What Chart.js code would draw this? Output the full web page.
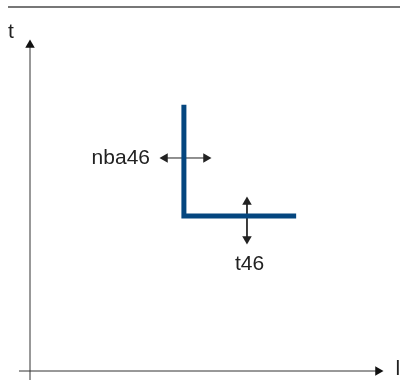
<!DOCTYPE html>
<html><head><meta charset="utf-8">
<script src="https://cdn.jsdelivr.net/npm/chart.js@4"></script>
<style>html,body{margin:0;padding:0;background:#fff}#wrap{width:403px;height:381px}</style>
</head><body><div id="wrap"><canvas id="c" width="403" height="381"></canvas></div>
<script>
// Schematic profile (L shape)
const profileX = [4.36, 4.36, 7.54];
const profileY = [8.04, 4.68, 4.68];
// Dimension arrows
const nbaArrowX = [3.824, 4.986];
const nbaArrowY = [6.435, 6.435];
const tArrowX = [6.147, 6.147];
const tArrowY = [5.106, 3.988];
// Axes
const xAxisX = [-0.312, 9.858];
const xAxisY = [0, 0];
const yAxisX = [0, 0];
const yAxisY = [-0.272, 9.849];
const topRuleX = [-0.623, 10.482];
const topRuleY = [10.997, 10.997];
// Labels
const labelText = ['t', 'l', 'nba46', 't46'];
const labelX = [-0.54, 10.42, 3.40, 6.218];
const labelY = [10.24, 0.06, 6.435, 3.22];
const labelAlign = ['center', 'center', 'right', 'center'];

const pts = (xs, ys) => xs.map((x, i) => ({x, y: ys[i]}));

const labelsPlugin = {
  id: 'labels',
  afterDatasetsDraw(chart) {
    const {ctx, scales} = chart;
    ctx.save();
    ctx.fillStyle = '#222';
    ctx.font = '21px "Liberation Sans", Arial, sans-serif';
    ctx.textBaseline = 'middle';
    labelText.forEach((t, i) => {
      ctx.textAlign = labelAlign[i];
      ctx.fillText(t, scales.x.getPixelForValue(labelX[i]), scales.y.getPixelForValue(labelY[i]));
    });
    ctx.restore();
  }
};

const arrowDs = (data, rot, color, w) => ({
  data, borderColor: color, backgroundColor: color, borderWidth: w,
  showLine: true, pointStyle: 'triangle', pointRadius: 5.5, pointRotation: rot,
  pointBorderWidth: 0, pointHoverRadius: 5.5
});

new Chart(document.getElementById('c'), {
  type: 'scatter',
  data: {
    datasets: [
      {data: pts(topRuleX, topRuleY), borderColor: '#777', borderWidth: 2, showLine: true, pointRadius: 0},
      {data: pts(xAxisX, xAxisY), borderColor: '#333', backgroundColor: '#111', borderWidth: 1, showLine: true, pointStyle: 'triangle', pointRadius: [0, 5.5], pointRotation: [0, 90], pointBorderWidth: 0},
      {data: pts(yAxisX, yAxisY), borderColor: '#333', backgroundColor: '#111', borderWidth: 1, showLine: true, pointStyle: 'triangle', pointRadius: [0, 5.5], pointRotation: [0, 0], pointBorderWidth: 0},
      {data: pts(profileX, profileY), borderColor: '#04467f', borderWidth: 5, showLine: true, pointRadius: 0, borderJoinStyle: 'miter', borderCapStyle: 'butt'},
      arrowDs(pts(nbaArrowX, nbaArrowY), [270, 90], '#222', 1),
      arrowDs(pts(tArrowX, tArrowY), [0, 180], '#222', 1)
    ]
  },
  options: {
    responsive: false, animation: false, events: [],
    layout: {padding: 0, autoPadding: false},
    plugins: {legend: {display: false}, tooltip: {enabled: false}, title: {display: false}},
    scales: {
      x: {type: 'linear', min: -0.85, max: 10.567, display: false},
      y: {type: 'linear', min: -0.302, max: 11.208, display: false}
    }
  },
  plugins: [labelsPlugin]
});
</script></body></html>
